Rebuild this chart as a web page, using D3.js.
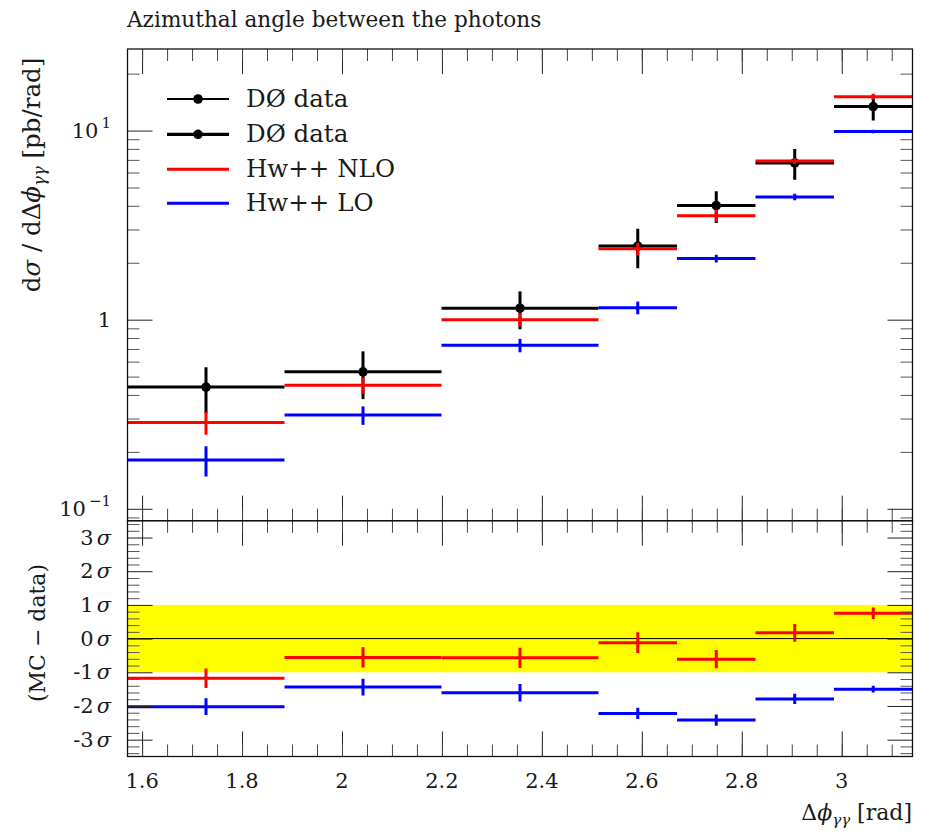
<!DOCTYPE html>
<html>
<head>
<meta charset="utf-8">
<script src="https://cdn.jsdelivr.net/npm/d3@7"></script>
<style>
  body { margin: 0; background: #fff; }
  svg text { font-family: "DejaVu Serif", "Liberation Serif", serif; fill: #1a1a1a; }
</style>
</head>
<body>
<svg id="chart" width="930" height="831"></svg>
<script>
// Δφ_γγ bin edges (0.5π … π) in rad
const binEdges = [1.5708, 1.8850, 2.1991, 2.5133, 2.6704, 2.8274, 2.9845, 3.1416];

// dσ/dΔφ_γγ [pb/rad]
const dataVals = [0.44, 0.53, 1.15, 2.45, 4.01, 6.74, 13.4];
const dataErr  = [0.12, 0.15, 0.26, 0.58, 0.76, 1.25, 2.1];
const nloVals  = [0.286, 0.450, 1.00, 2.37, 3.55, 6.90, 15.1];
const nloErr   = [0.040, 0.044, 0.08, 0.18, 0.25, 0.25, 0.55];
const loVals   = [0.181, 0.313, 0.732, 1.157, 2.107, 4.46, 9.89];
const loErr    = [0.033, 0.035, 0.060, 0.090, 0.100, 0.18, 0.20];

// (MC − data)/σ
const nloDev    = [-1.18, -0.56, -0.57, -0.12, -0.61, 0.17, 0.75];
const nloDevErr = [0.29, 0.30, 0.30, 0.31, 0.27, 0.26, 0.17];
const loDev     = [-2.02, -1.44, -1.61, -2.22, -2.42, -1.79, -1.50];
const loDevErr  = [0.25, 0.25, 0.26, 0.17, 0.17, 0.15, 0.10];

// axis ticks
const xTickVals   = [1.6, 1.8, 2.0, 2.2, 2.4, 2.6, 2.8, 3.0];
const xTickLabels = ["1.6", "1.8", "2", "2.2", "2.4", "2.6", "2.8", "3"];
const yMajorVals  = [0.1, 1, 10];
const devTickVals = [-3, -2, -1, 0, 1, 2, 3];
const devTickLabels = ["-3", "-2", "-1", "0", "1", "2", "3"];

const legendLabels = ["DØ data", "DØ data", "Hw++ NLO", "Hw++ LO"];

const svg = d3.select("#chart");
const L = 127.5, R = 912.5, T = 49, MID = 520.7, B = 756.5;

const x  = d3.scaleLinear().domain([binEdges[0], binEdges[binEdges.length - 1]]).range([L, R]);
const y  = d3.scaleLog().domain([0.0865, 27.0]).range([MID, T]);
const yr = d3.scaleLinear().domain([-3.5, 3.5]).range([B, MID]);

const xMinor = d3.range(1.55, 3.151, 0.05).filter(v => v >= x.domain()[0] && v <= x.domain()[1]);
const yMinor = [];
[0.01, 0.1, 1, 10].forEach(d => { for (let k = 2; k <= 9; k++) { const v = k * d; if (v >= y.domain()[0] && v <= y.domain()[1]) yMinor.push(v); } });
const devMinor = d3.range(-34, 35, 2).map(v => v / 10).filter(v => Math.abs(v - Math.round(v)) > 1e-6);

// clip regions
const defs = svg.append("defs");
defs.append("clipPath").attr("id", "clipMain").append("rect").attr("x", L).attr("y", T).attr("width", R - L).attr("height", MID - T);
defs.append("clipPath").attr("id", "clipDev").append("rect").attr("x", L).attr("y", MID).attr("width", R - L).attr("height", B - MID);

// ---- deviation panel background: ±1σ band and zero line
const devG = svg.append("g").attr("clip-path", "url(#clipDev)");
devG.append("rect").attr("x", L).attr("width", R - L)
  .attr("y", yr(1)).attr("height", yr(-1) - yr(1)).attr("fill", "#ffff00");
devG.append("line").attr("x1", L).attr("x2", R).attr("y1", yr(0)).attr("y2", yr(0))
  .attr("stroke", "#000").attr("stroke-width", 1);

// ---- ticks
function tickAxis(axis, tx, ty, len, color) {
  const g = svg.append("g").attr("transform", `translate(${tx},${ty})`)
    .call(axis.tickSize(len).tickSizeOuter(0).tickFormat(""));
  g.select(".domain").remove();
  g.selectAll(".tick line").attr("stroke", color).attr("stroke-width", 1);
  return g;
}
// x ticks: top of main, bottom of main, top of deviation, bottom of deviation
tickAxis(d3.axisTop(x).tickValues(xTickVals), 0, T, -25, "#222");
tickAxis(d3.axisTop(x).tickValues(xMinor), 0, T, -12, "#444");
tickAxis(d3.axisBottom(x).tickValues(xTickVals), 0, MID, -25, "#222");
tickAxis(d3.axisBottom(x).tickValues(xMinor), 0, MID, -12, "#444");
tickAxis(d3.axisTop(x).tickValues(xTickVals), 0, MID, -25, "#222");
tickAxis(d3.axisTop(x).tickValues(xMinor), 0, MID, -12, "#444");
tickAxis(d3.axisBottom(x).tickValues(xTickVals), 0, B, -25, "#222");
tickAxis(d3.axisBottom(x).tickValues(xMinor), 0, B, -12, "#444");
// y ticks: main panel
tickAxis(d3.axisLeft(y).tickValues(yMajorVals), L, 0, -25, "#222");
tickAxis(d3.axisLeft(y).tickValues(yMinor), L, 0, -12, "#555");
tickAxis(d3.axisRight(y).tickValues(yMajorVals), R, 0, -25, "#222");
tickAxis(d3.axisRight(y).tickValues(yMinor), R, 0, -12, "#555");
// y ticks: deviation panel
tickAxis(d3.axisLeft(yr).tickValues(devTickVals), L, 0, -25, "#222");
tickAxis(d3.axisLeft(yr).tickValues(devMinor), L, 0, -12, "#555");
tickAxis(d3.axisRight(yr).tickValues(devTickVals), R, 0, -25, "#222");
tickAxis(d3.axisRight(yr).tickValues(devMinor), R, 0, -12, "#555");

// ---- histogram-style series with error bars
function drawSeries(g, vals, errs, ys, color, width, marker) {
  const s = g.append("g");
  vals.forEach((v, i) => {
    const x0 = x(binEdges[i]), x1 = x(binEdges[i + 1]);
    const xc = x((binEdges[i] + binEdges[i + 1]) / 2);
    s.append("line").attr("x1", xc).attr("x2", xc)
      .attr("y1", ys(v - errs[i])).attr("y2", ys(v + errs[i]))
      .attr("stroke", color).attr("stroke-width", width);
    s.append("line").attr("x1", x0).attr("x2", x1)
      .attr("y1", ys(v)).attr("y2", ys(v))
      .attr("stroke", color).attr("stroke-width", width);
    if (marker) s.append("circle").attr("cx", xc).attr("cy", ys(v)).attr("r", 4.8).attr("fill", color);
  });
}
const mainG = svg.append("g").attr("clip-path", "url(#clipMain)");
drawSeries(mainG, dataVals, dataErr, y, "#000", 3, true);
drawSeries(mainG, nloVals, nloErr, y, "#ff0000", 3, false);
drawSeries(mainG, loVals, loErr, y, "#0000ff", 3, false);

drawSeries(devG, nloDev, nloDevErr, yr, "#ff0000", 3, false);
drawSeries(devG, loDev, loDevErr, yr, "#0000ff", 3, false);

// ---- frames
[[T, MID], [MID, B]].forEach(([a, b]) => {
  svg.append("rect").attr("x", L).attr("y", a).attr("width", R - L).attr("height", b - a)
    .attr("fill", "none").attr("stroke", "#111").attr("stroke-width", 1.3);
});

// ---- legend
const legend = svg.append("g");
const legendRows = [99, 134.3, 169.3, 203.3];
const legendColors = ["#000", "#000", "#ff0000", "#0000ff"];
const legendWidths = [2, 3.2, 3, 3];
legendLabels.forEach((lab, i) => {
  const yy = legendRows[i];
  legend.append("line").attr("x1", 167).attr("x2", 229).attr("y1", yy).attr("y2", yy)
    .attr("stroke", legendColors[i]).attr("stroke-width", legendWidths[i]);
  if (i < 2) legend.append("circle").attr("cx", 198).attr("cy", yy).attr("r", 4.8).attr("fill", "#000");
  legend.append("text").attr("x", 246).attr("y", yy + 8).attr("font-size", 24.5).text(lab);
});

// ---- tick labels
const labelG = svg.append("g").attr("font-size", 21);
// main y (powers of ten)
const yLab = [
  { v: 10, base: "10", sup: "1" },
  { v: 1, base: "1", sup: null },
  { v: 0.1, base: "10", sup: "\u22121" }
];
yLab.forEach(d => {
  const t = labelG.append("text").attr("x", 111).attr("y", y(d.v) + 7).attr("text-anchor", "end");
  t.append("tspan").text(d.base);
  if (d.sup) t.append("tspan").attr("dy", -10).attr("font-size", 15).attr("dx", 3).text(d.sup);
});
// deviation y
devTickVals.forEach((v, i) => {
  const t = labelG.append("text").attr("x", 111).attr("y", yr(v) + 7).attr("text-anchor", "end");
  t.append("tspan").text(devTickLabels[i]);
  t.append("tspan").attr("dx", 3).attr("font-style", "italic").text("\u03c3");
});
// x
xTickVals.forEach((v, i) => {
  labelG.append("text").attr("x", x(v)).attr("y", 788).attr("text-anchor", "middle").text(xTickLabels[i]);
});

// ---- axis titles
const xt = svg.append("text").attr("x", 912).attr("y", 820).attr("text-anchor", "end").attr("font-size", 22);
xt.append("tspan").text("\u0394");
xt.append("tspan").attr("font-style", "italic").text("\u03d5");
xt.append("tspan").attr("font-style", "italic").attr("font-size", 15).attr("dy", 5).text("\u03b3\u03b3");
xt.append("tspan").attr("dy", -5).text(" [rad]");

const yt = svg.append("text").attr("transform", "translate(40,175) rotate(-90)")
  .attr("text-anchor", "middle").attr("font-size", 24.5);
yt.append("tspan").text("d");
yt.append("tspan").attr("font-style", "italic").text("\u03c3");
yt.append("tspan").text(" / d\u0394");
yt.append("tspan").attr("font-style", "italic").text("\u03d5");
yt.append("tspan").attr("font-style", "italic").attr("font-size", 16.5).attr("dy", 5).text("\u03b3\u03b3");
yt.append("tspan").attr("dy", -5).text(" [pb/rad]");

svg.append("text").attr("transform", "translate(45,633) rotate(-90)")
  .attr("text-anchor", "middle").attr("font-size", 22).text("(MC \u2212 data)");

// ---- title
svg.append("text").attr("x", 127).attr("y", 27).attr("font-size", 21.6)
  .text("Azimuthal angle between the photons");
</script>
</body>
</html>
